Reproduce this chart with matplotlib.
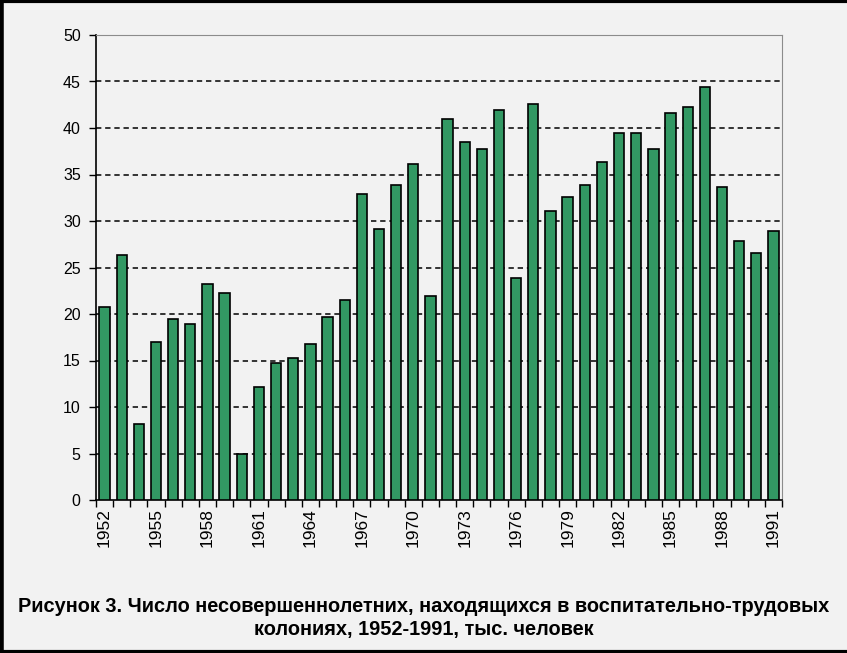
import numpy as np
import matplotlib.pyplot as plt
from matplotlib.lines import Line2D

years = list(range(1952, 1992))
values = [20.8, 26.3, 8.2, 17.0, 19.5, 18.9, 23.2, 22.3, 4.9, 12.1,
          14.7, 15.3, 16.8, 19.7, 21.5, 32.9, 29.1, 33.9, 36.1, 21.9,
          41.0, 38.5, 37.7, 41.9, 23.9, 42.6, 31.1, 32.6, 33.9, 36.3,
          39.5, 39.5, 37.7, 41.6, 42.3, 44.4, 33.7, 27.9, 26.6, 28.9]
label_years = years[::3]
caption = ("Рисунок 3. Число несовершеннолетних, находящихся в воспитательно-трудовых\n"
           "колониях, 1952-1991, тыс. человек")

BG = "#f2f2f2"
GREEN = "#329863"

plt.rcParams["font.family"] = ["Liberation Sans", "DejaVu Sans"]

fig = plt.figure(figsize=(8.47, 6.53), dpi=100, facecolor=BG)
ax = fig.add_axes([96 / 847, 1 - 500 / 653, (782 - 96) / 847, (500 - 35) / 653])
ax.set_facecolor(BG)

x = np.arange(len(years))
ax.bar(x, values, width=0.6, color=GREEN, edgecolor="black", linewidth=1.2, zorder=3)

ax.set_xlim(-0.5, len(years) - 0.5)
ax.set_ylim(0, 50)
ax.set_yticks(range(0, 51, 5))
for yv in range(5, 50, 5):
    ax.axhline(yv, color="black", linestyle=(0, (3.5, 2.5)), linewidth=1.1, zorder=1)

ax.set_xticks([years.index(y) for y in label_years])
ax.set_xticklabels([str(y) for y in label_years], rotation=90, fontsize=12.5)
ax.set_xticks(np.arange(-0.5, len(years)), minor=True)
ax.tick_params(axis="x", which="major", length=0, pad=6)
ax.tick_params(axis="x", which="minor", length=5, width=1, color="black")
ax.tick_params(axis="y", length=5, width=1, labelsize=11.5, pad=6)

ax.spines["top"].set_color("#8c8c8c")
ax.spines["right"].set_color("#8c8c8c")
ax.spines["left"].set_linewidth(1.2)
ax.spines["bottom"].set_linewidth(1.2)

fig.text(0.5, 1 - 618 / 653, caption, ha="center", va="center", fontsize=14.4,
         fontweight="bold", linespacing=1.2,
         family=["Liberation Sans", "DejaVu Sans"])

# black frame around the picture (top, left, bottom)
fig.add_artist(Line2D([0.001, 0.001], [0, 1], color="black", linewidth=4, transform=fig.transFigure))
fig.add_artist(Line2D([0, 1], [0.999, 0.999], color="black", linewidth=3, transform=fig.transFigure))
fig.add_artist(Line2D([0, 1], [0.002, 0.002], color="black", linewidth=3, transform=fig.transFigure))

fig.savefig("out.png", dpi=100, facecolor=BG)
